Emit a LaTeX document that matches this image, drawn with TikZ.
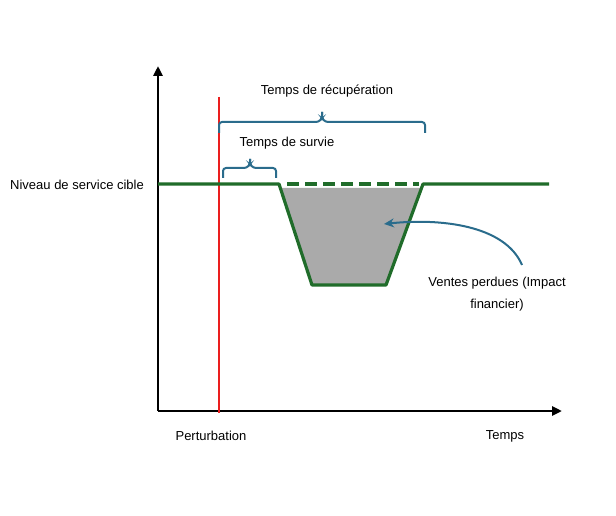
\documentclass[tikz,border=0pt]{standalone}
\usepackage{fontspec}
\setmainfont{Liberation Sans}
\usetikzlibrary{arrows.meta}
\definecolor{gline}{RGB}{32,108,42}
\definecolor{bline}{RGB}{42,108,140}
\definecolor{rline}{RGB}{235,30,30}
\definecolor{gfill}{RGB}{170,170,170}
\begin{document}
\begin{tikzpicture}[x=1pt,y=-1pt,
  lbl/.style={font=\fontsize{13}{16}\selectfont,inner sep=0pt,text=black},
  axis/.style={line width=2.6pt,-{Triangle[length=10pt,width=9pt]}},
  level/.style={gline,line width=3.2pt},
  bracepath/.style={bline,line width=2pt,rounded corners=3pt}]
\useasboundingbox (0,0) rectangle (616,516);
% coordinates
\coordinate (O) at (158,411);
\coordinate (ytip) at (158,66);
\coordinate (xtip) at (562,411);
\coordinate (rtop) at (219,97);
\coordinate (rbot) at (219,413);
\coordinate (L0) at (158,184);
\coordinate (A) at (279,184);
\coordinate (B) at (312,285);
\coordinate (C) at (386,285);
\coordinate (D) at (423,184);
\coordinate (L1) at (549,184);
% gray area
\fill[gfill] (281,188) -- (B) -- (C) -- (420,188) -- cycle;
% axes
\draw[axis] (O) -- (ytip);
\draw[axis] (O) -- (xtip);
% red line
\draw[rline,line width=2pt] (rtop) -- (rbot);
% green level
\draw[level,line join=round] (L0) -- (A) -- (B) -- (C) -- (D) -- (L1);
\draw[level,dash pattern=on 12pt off 6pt] (287,184) -- (419,184);
% braces
\draw[bracepath] (219,133) -- (219,122) -- (319,122) -- (322,118) -- (322,112);
\draw[bracepath] (322,112) -- (322,118) -- (325,122) -- (425,122) -- (425,133);
\draw[bracepath] (223,178) -- (223,168) -- (247,168) -- (250,164) -- (250,159);
\draw[bracepath] (250,159) -- (250,164) -- (253,168) -- (276,168) -- (276,178);
% labels
\node[lbl] (trec) at (327,91) {Temps de récupération};
\node[lbl] (tsur) at (287,143) {Temps de survie};
\node[lbl,anchor=west] (niv) at (10,185) {Niveau de service cible};
\node[lbl,align=center] (ventes) at (497,294) {Ventes perdues (Impact\\[6pt]financier)};
\node[lbl] (pert) at (211,436) {Perturbation};
\node[lbl] (temps) at (505,436) {Temps};
% curved arrow
\coordinate (aS) at (522,265);
\coordinate (aE) at (384,224);
\draw[bline,line width=2pt,-{Stealth[length=10pt,width=9pt]}] (aS) .. controls (505,225) and (440,218) .. (aE);
\end{tikzpicture}
\end{document}
